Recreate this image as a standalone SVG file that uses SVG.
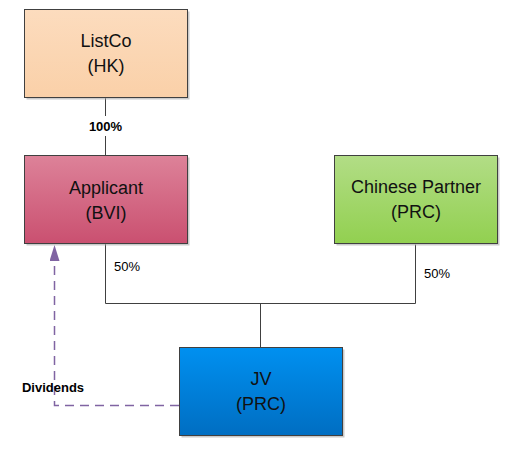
<svg xmlns="http://www.w3.org/2000/svg" width="520" height="450" viewBox="0 0 520 450">
<defs>
<linearGradient id="gListCo" x1="0" y1="0" x2="0" y2="1"><stop offset="0" stop-color="#FCDCBE"/><stop offset="1" stop-color="#FAD0A8"/></linearGradient>
<linearGradient id="gApp" x1="0" y1="0" x2="0" y2="1"><stop offset="0" stop-color="#DD8299"/><stop offset="1" stop-color="#CA5070"/></linearGradient>
<linearGradient id="gCP" x1="0" y1="0" x2="0" y2="1"><stop offset="0" stop-color="#B2DD86"/><stop offset="1" stop-color="#92D050"/></linearGradient>
<linearGradient id="gJV" x1="0" y1="0" x2="0" y2="1"><stop offset="0" stop-color="#0090F0"/><stop offset="1" stop-color="#006EC2"/></linearGradient>
<marker id="arr" markerWidth="16" markerHeight="10" refX="16" refY="5" orient="auto" markerUnits="userSpaceOnUse" viewBox="0 0 16 10">
<path d="M16 5 L0 10 L0 0 Z" fill="#8064A2"/>
</marker>
</defs>
<style>
.box{stroke:#404040;stroke-width:1}
.shadow{fill:#A6A6A6;opacity:0.6}
.lbl{font-family:"Liberation Sans",Arial,sans-serif;font-size:18px;fill:#111;text-anchor:middle}
.pct{font-family:"Liberation Sans",Arial,sans-serif;font-size:13px;fill:#000}
.bold{font-weight:bold}
.conn{stroke:#404040;stroke-width:1;fill:none}
.div{stroke:#8064A2;stroke-width:1.5;fill:none;stroke-dasharray:9,6}
</style>
<g id="connectors">
<line class="conn" x1="105.5" y1="97.5" x2="105.5" y2="116"/>
<line class="conn" x1="105.5" y1="136" x2="105.5" y2="155.5"/>
<polyline class="conn" points="105.5,243.5 105.5,303.5 415.5,303.5 415.5,244.5"/>
<line class="conn" x1="260.5" y1="303.5" x2="260.5" y2="347.5"/>
<polyline class="div" points="179,405.5 54.5,405.5 54.5,245" marker-end="url(#arr)"/>
<text class="pct bold" x="105.5" y="131" text-anchor="middle">100%</text>
<text class="pct" x="114" y="271">50%</text>
<text class="pct" x="424" y="278">50%</text>
<text class="pct bold" x="53" y="392" text-anchor="middle">Dividends</text>
</g>
<g id="listco">
<rect class="shadow" x="26.5" y="11.5" width="163" height="88"/>
<rect class="box" x="24.5" y="9.5" width="163" height="88" fill="url(#gListCo)"/>
<text class="lbl" x="106" y="47">ListCo</text>
<text class="lbl" x="106" y="72">(HK)</text>
</g>
<g id="applicant">
<rect class="shadow" x="26.5" y="157.5" width="163" height="88"/>
<rect class="box" x="24.5" y="155.5" width="163" height="88" fill="url(#gApp)"/>
<text class="lbl" x="106" y="194">Applicant</text>
<text class="lbl" x="106" y="219">(BVI)</text>
</g>
<g id="chinese-partner">
<rect class="shadow" x="336.5" y="157.5" width="163" height="88"/>
<rect class="box" x="334.5" y="155.5" width="163" height="88" fill="url(#gCP)"/>
<text class="lbl" x="416" y="193">Chinese Partner</text>
<text class="lbl" x="416" y="218">(PRC)</text>
</g>
<g id="jv">
<rect class="shadow" x="181.5" y="349.5" width="163" height="88"/>
<rect class="box" x="179.5" y="347.5" width="163" height="88" fill="url(#gJV)"/>
<text class="lbl" x="261" y="385">JV</text>
<text class="lbl" x="261" y="410">(PRC)</text>
</g>
</svg>
